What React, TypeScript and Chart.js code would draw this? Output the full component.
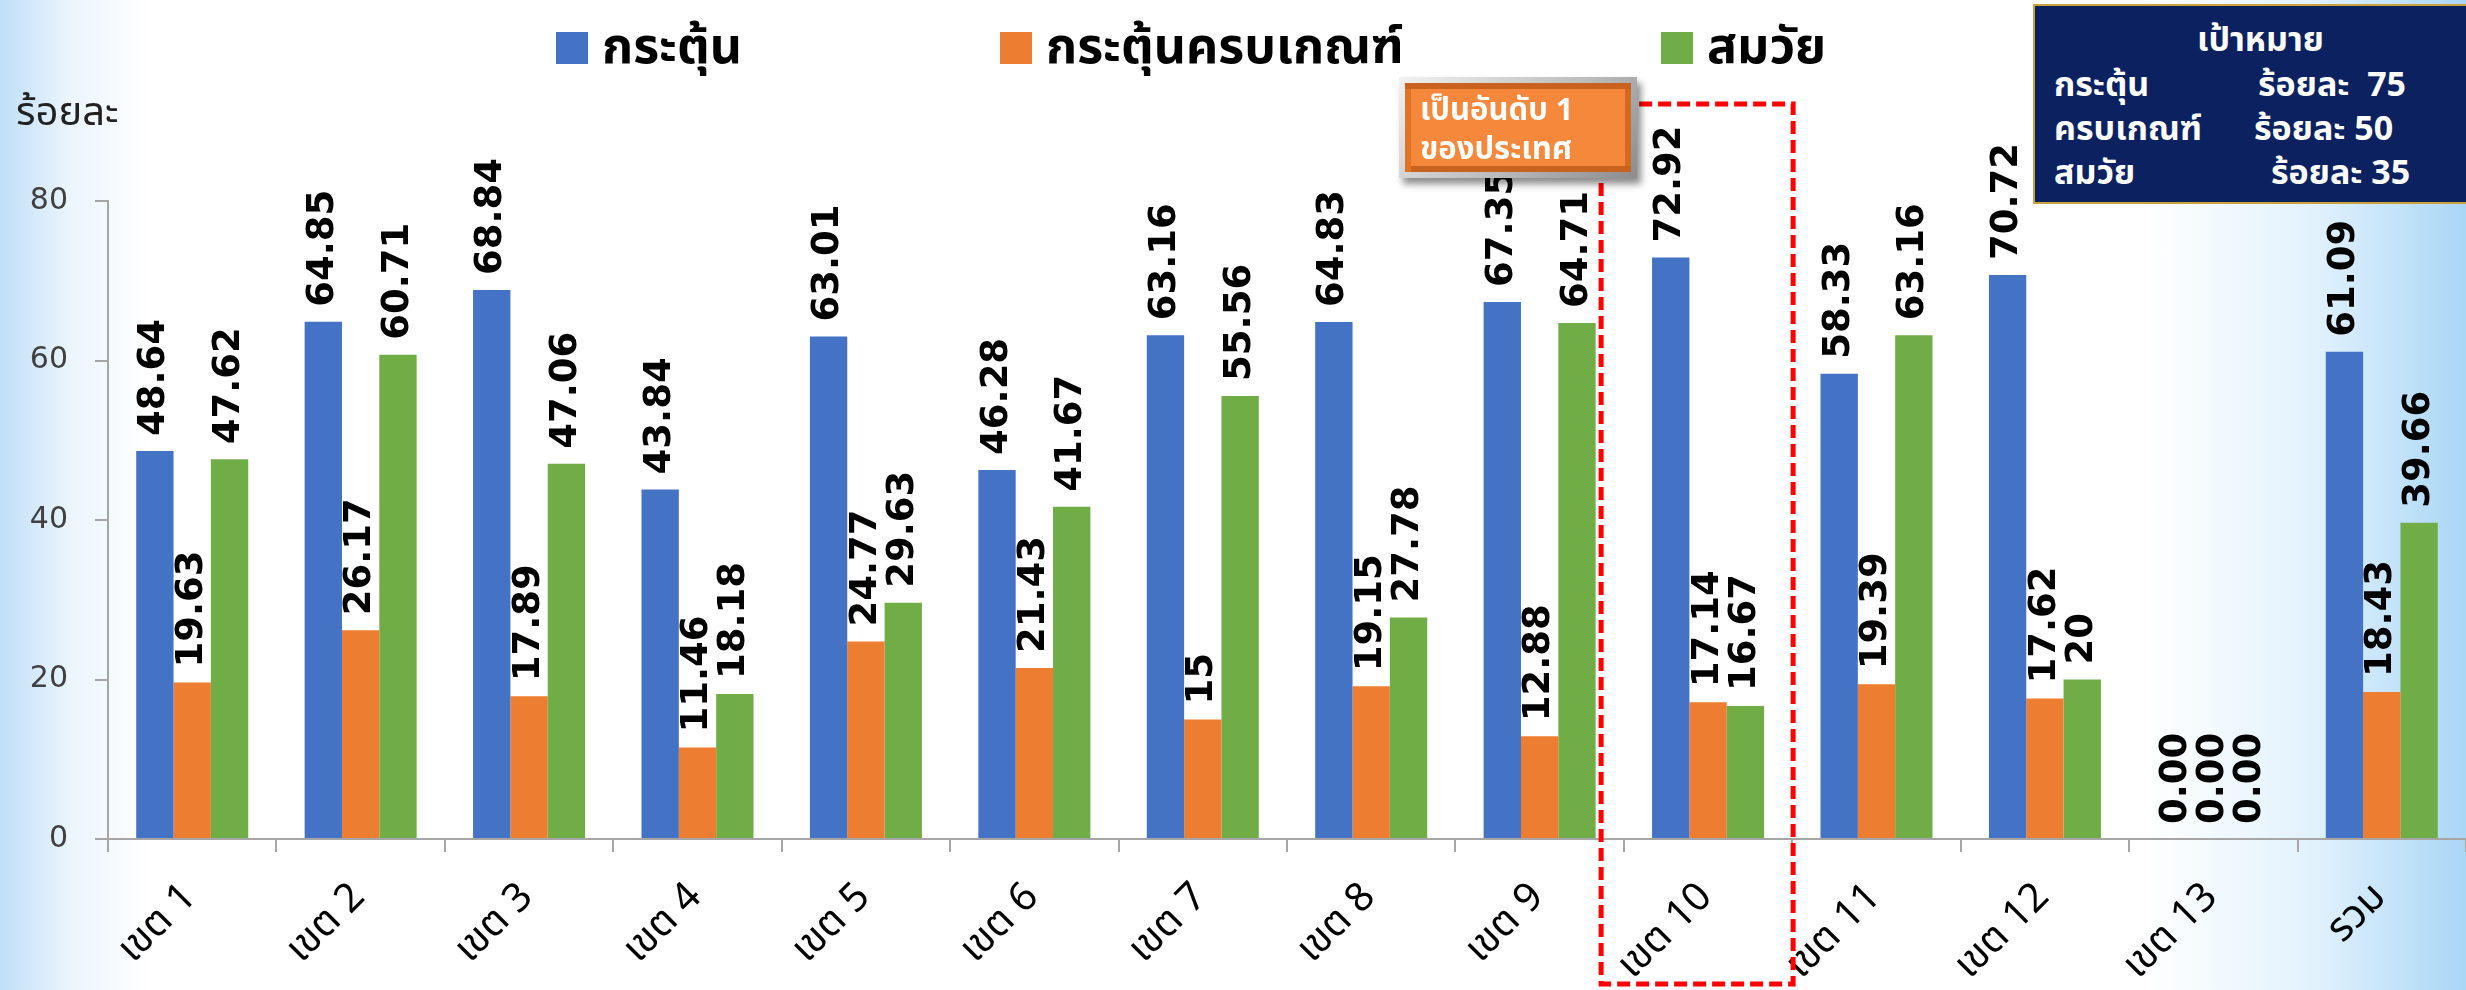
import React, { useEffect, useRef } from 'react';
import { Chart, registerables } from 'chart.js';

Chart.register(...registerables);

const categories = ['เขต 1', 'เขต 2', 'เขต 3', 'เขต 4', 'เขต 5', 'เขต 6', 'เขต 7', 'เขต 8', 'เขต 9', 'เขต 10', 'เขต 11', 'เขต 12', 'เขต 13', 'รวม'];
const stimulated = [48.64, 64.85, 68.84, 43.84, 63.01, 46.28, 63.16, 64.83, 67.35, 72.92, 58.33, 70.72, 0, 61.09];
const completeCriteria = [19.63, 26.17, 17.89, 11.46, 24.77, 21.43, 15, 19.15, 12.88, 17.14, 19.39, 17.62, 0, 18.43];
const ageAppropriate = [47.62, 60.71, 47.06, 18.18, 29.63, 41.67, 55.56, 27.78, 64.71, 16.67, 63.16, 20, 0, 39.66];
const seriesNames = ['กระตุ้น', 'กระตุ้นครบเกณฑ์', 'สมวัย'];
const seriesColors = ['#4472C4', '#ED7D31', '#70AD47'];
const yMax = 80;
const yStep = 20;
const highlightIndex = 9;
const targetTitle = 'เป้าหมาย';
const targetNames = ['กระตุ้น', 'ครบเกณฑ์', 'สมวัย'];
const targetValues = ['ร้อยละ  75', 'ร้อยละ 50', 'ร้อยละ 35'];
const noteLines = ['เป็นอันดับ 1', 'ของประเทศ'];
const yTitle = 'ร้อยละ';

const THAI = "'Noto Sans Thai', 'Noto Sans', 'DejaVu Sans', sans-serif";

const valueLabelPlugin = {
  id: 'valueLabels',
  afterDatasetsDraw(chart: any) {
    const ctx = chart.ctx;
    ctx.save();
    ctx.font = "bold 37px 'DejaVu Sans'";
    ctx.fillStyle = '#000';
    ctx.textAlign = 'left';
    ctx.textBaseline = 'middle';
    chart.data.datasets.forEach((ds: any, di: number) => {
      const meta = chart.getDatasetMeta(di);
      meta.data.forEach((el: any, i: number) => {
        const v = ds.data[i];
        const txt = v === 0 ? '0.00' : String(v);
        ctx.save();
        ctx.translate(el.x, el.y - 15);
        ctx.rotate(-Math.PI / 2);
        ctx.fillText(txt, 0, 0);
        ctx.restore();
      });
    });
    ctx.restore();
  },
};

const highlightPlugin = {
  id: 'highlightBox',
  afterDraw(chart: any) {
    const ctx = chart.ctx;
    const xs = chart.scales.x;
    const c = xs.getPixelForValue(highlightIndex);
    const half = (xs.getPixelForValue(1) - xs.getPixelForValue(0)) / 2;
    ctx.save();
    ctx.strokeStyle = '#FF0000';
    ctx.lineWidth = 5;
    ctx.setLineDash([13, 6]);
    ctx.strokeRect(c - half * 1.27, 104, half * 2.28, 880);
    ctx.restore();
  },
};

export default function App() {
  const ref = useRef<HTMLCanvasElement>(null);
  useEffect(() => {
    if (!ref.current) return;
    const chart = new Chart(ref.current, {
      type: 'bar',
      data: {
        labels: categories,
        datasets: [stimulated, completeCriteria, ageAppropriate].map((d, i) => ({
          label: seriesNames[i],
          data: d,
          backgroundColor: seriesColors[i],
          borderWidth: 0,
          categoryPercentage: 0.665,
          barPercentage: 1.0,
        })),
      },
      options: {
        responsive: false,
        maintainAspectRatio: false,
        animation: false,
        layout: { padding: { top: 201, left: 0, right: 0, bottom: 0 } },
        plugins: { legend: { display: false }, tooltip: { enabled: false } },
        scales: {
          x: {
            grid: { offset: true, drawOnChartArea: false, tickLength: 13, color: '#A6A6A6', lineWidth: 2 },
            border: { color: '#A6A6A6', width: 2 },
            ticks: { minRotation: 45, maxRotation: 45, color: '#000', padding: 24, font: { family: THAI, size: 40 } },
            afterFit: (s: any) => { s.height = 151; },
          },
          y: {
            min: 0,
            max: yMax,
            ticks: { stepSize: yStep, color: '#404040', padding: 27, font: { family: "'DejaVu Sans'", size: 30 } },
            grid: { drawOnChartArea: false, tickLength: 13, color: '#A6A6A6', lineWidth: 2 },
            border: { color: '#A6A6A6', width: 2 },
            afterFit: (s: any) => { s.width = 108; },
          },
        },
      },
      plugins: [valueLabelPlugin, highlightPlugin],
    });
    return () => chart.destroy();
  }, []);

  const legendItems = [
    { left: 556, text: seriesNames[0] },
    { left: 1000, text: seriesNames[1] },
    { left: 1661, text: seriesNames[2] },
  ];
  const valueLefts = [223, 219, 236];

  return (
    <div
      style={{
        position: 'absolute', left: 0, top: 0, width: 2466, height: 990, overflow: 'hidden',
        background:
          'linear-gradient(to right, rgba(170,212,246,0.75) 0px, rgba(205,230,250,0.4) 70px, rgba(255,255,255,0) 150px), ' +
          'linear-gradient(to left, rgba(155,207,245,0.85) 0px, rgba(195,228,250,0.5) 150px, rgba(255,255,255,0) 320px), #fff',
      }}
    >
      <canvas ref={ref} width={2466} height={990} style={{ position: 'absolute', left: 0, top: 0 }} />
      {legendItems.map((it, i) => (
        <div key={i} style={{ position: 'absolute', left: it.left, top: 20, height: 56, display: 'flex', alignItems: 'center', fontFamily: THAI, fontWeight: 'bold', fontSize: 50, color: '#000', whiteSpace: 'nowrap' }}>
          <span style={{ display: 'inline-block', width: 32, height: 32, background: seriesColors[i], marginRight: 14 }} />
          {it.text}
        </div>
      ))}
      <div style={{ position: 'absolute', left: 16, top: 88, lineHeight: '50px', fontFamily: THAI, fontSize: 40, color: '#222' }}>{yTitle}</div>
      <div style={{
        position: 'absolute', left: 1399, top: 77, width: 238, height: 101, boxSizing: 'border-box', padding: 6,
        background: 'linear-gradient(135deg, #f2f2f2, #b8b8b8 60%, #8c8c8c)', boxShadow: '4px 6px 7px rgba(0,0,0,0.45)',
      }}>
        <div style={{
          width: '100%', height: '100%', boxSizing: 'border-box', background: '#F5883A',
          boxShadow: 'inset 0 6px 0 #C8621E, inset 6px 0 0 #E07326, inset 0 -6px 0 #C8621E, inset -6px 0 0 #D26A22',
          color: '#fff', fontFamily: THAI, fontWeight: 'bold', fontSize: 31, lineHeight: '39px', padding: '8px 0 0 15px', whiteSpace: 'nowrap',
        }}>
          {noteLines.map((l, i) => <div key={i}>{l}</div>)}
        </div>
      </div>
      <div style={{
        position: 'absolute', left: 2033, top: 4, width: 433, height: 200, boxSizing: 'border-box',
        background: '#0C2260', border: '2px solid #C9A43A', borderRight: 'none', color: '#fff', fontFamily: THAI, fontWeight: 'bold', fontSize: 34, lineHeight: '44px',
      }}>
        <div style={{ position: 'absolute', left: 0, right: 0, top: 13, textAlign: 'center', paddingLeft: 20 }}>{targetTitle}</div>
        {targetNames.map((n, i) => (
          <React.Fragment key={i}>
            <div style={{ position: 'absolute', left: 19, top: 58 + i * 44, whiteSpace: 'nowrap' }}>{n}</div>
            <div style={{ position: 'absolute', left: valueLefts[i], top: 58 + i * 44, whiteSpace: 'pre' }}>{targetValues[i]}</div>
          </React.Fragment>
        ))}
      </div>
    </div>
  );
}
